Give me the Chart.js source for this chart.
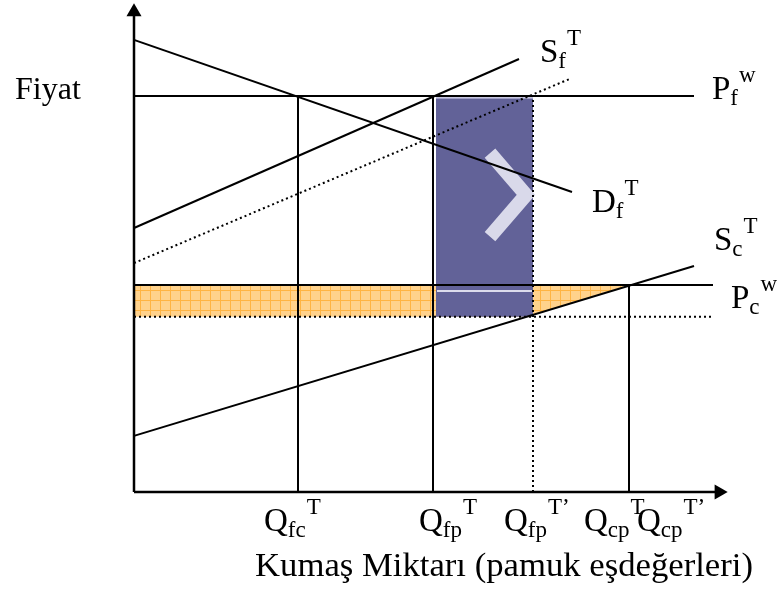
<!DOCTYPE html>
<html lang="tr">
  <head>
    <meta charset="UTF-8" />
    <title>Kumaş piyasası</title>
    <script src="https://cdn.jsdelivr.net/npm/chart.js"></script>
    <style>
      body { margin: 0; background: #fff; }
      canvas { display: block; }
    </style>
  </head>
  <body>
    <canvas id="diagram" width="777" height="592"></canvas>
    <script>
      // quantity levels (x) and price levels (y), diagram units
      const qFcT = 32.8;
      const qFpT = 59.8;
      const qFpT2 = 79.8;
      const qCpT = 99;
      const pFw = 82.5;
      const pCw = 43.1;
      const pCwLow = 36.5;

      // curves as [x, y] end points
      const demandF = [[0, 94.2], [87.6, 62.5]];
      const supplyF = [[0, 55], [77, 90.2]];
      const supplyF2 = [[0, 47.7], [87, 86]];
      const supplyC = [[0, 11.7], [112, 47.1]];
      const worldFEnd = 112;
      const worldCEnd = 115.8;

      // shaded areas
      const orangeTop = [[0, pCw], [qCpT, pCw]];
      const orangeBottom = [[0, pCwLow], [78.6, pCwLow], [qCpT, pCw]];
      const blueBox = [[60.4, 82.1], [qFpT2, 82.1]];
      const blueStripe = [[60.6, 41.9], [79.6, 41.9]];
      const chevron = [[71.2, 70.6], [78.4, 61.9], [71.2, 53.2]];

      // text
      const xTickLabels = [
        ["Q", "fc", "T"],
        ["Q", "fp", "T"],
        ["Q", "fp", "T’"],
        ["Q", "cp", "T"],
        ["Q", "cp", "T’"],
      ];
      const curveLabels = [
        ["S", "f", "T"],
        ["P", "f", "w"],
        ["D", "f", "T"],
        ["S", "c", "T"],
        ["P", "c", "w"],
      ];
      const yTitle = "Fiyat";
      const xTitle = "Kumaş Miktarı (pamuk eşdeğerleri)";

      const pts = (arr) => arr.map(([x, y]) => ({ x: x, y: y }));

      const canvas = document.getElementById("diagram");
      const ctx = canvas.getContext("2d");

      // orange grid fill
      const tile = document.createElement("canvas");
      tile.width = 10;
      tile.height = 10;
      const tg = tile.getContext("2d");
      tg.fillStyle = "#ffd28c";
      tg.fillRect(0, 0, 10, 10);
      tg.fillStyle = "#ffb443";
      tg.fillRect(0, 0, 1, 10);
      tg.fillRect(0, 0, 10, 1);
      const orangePattern = ctx.createPattern(tile, "repeat");

      function line(data, opts) {
        return Object.assign(
          {
            data: pts(data),
            showLine: true,
            borderColor: "#000",
            borderWidth: 2,
            pointRadius: 0,
            fill: false,
            clip: false,
            order: 0,
          },
          opts || {}
        );
      }

      const dotted = { borderDash: [2, 3], borderWidth: 2 };

      const datasets = [
        // axes with arrow heads
        line([[0, 0], [0, 100]], {
          borderWidth: 2.5,
          pointRadius: [0, 8.7],
          pointStyle: "triangle",
          pointBackgroundColor: "#000",
          pointBorderColor: "#000",
          pointBorderWidth: 0,
        }),
        line([[0, 0], [117, 0]], {
          borderWidth: 2.5,
          pointRadius: [0, 8.7],
          pointStyle: "triangle",
          pointRotation: 90,
          pointBackgroundColor: "#000",
          pointBorderColor: "#000",
          pointBorderWidth: 0,
        }),
        // curves
        line(demandF),
        line(supplyF),
        line(supplyF2, dotted),
        line(supplyC),
        // world prices
        line([[0, pFw], [worldFEnd, pFw]]),
        line([[0, pCw], [worldCEnd, pCw]]),
        line([[0, pCwLow], [worldCEnd, pCwLow]], dotted),
        // quantity drop lines
        line([[qFcT, 0], [qFcT, pFw]]),
        line([[qFpT, 0], [qFpT, pFw]]),
        line([[qFpT2, 0], [qFpT2, pFw]], dotted),
        line([[qCpT, 0], [qCpT, pCw]]),
        // blue button
        line(chevron, {
          borderColor: "#d9d9ea",
          borderWidth: 14,
          borderJoinStyle: "miter",
          borderCapStyle: "butt",
          order: 3,
        }),
        line(blueStripe, { borderColor: "#dcdcec", borderWidth: 2, order: 3 }),
        line(blueBox, {
          borderColor: "#b4b4d6",
          borderWidth: 1.5,
          backgroundColor: "#626298",
          fill: { value: pCwLow },
          order: 5,
        }),
        // orange area
        line(orangeTop, {
          borderWidth: 0,
          borderColor: "rgba(0,0,0,0)",
          backgroundColor: orangePattern,
          fill: "+1",
          order: 10,
        }),
        line(orangeBottom, {
          borderWidth: 0,
          borderColor: "rgba(0,0,0,0)",
          order: 10,
        }),
      ];

      function drawLabel(c, x, y, main, sub, sup) {
        c.font = '33px "Liberation Serif"';
        c.fillText(main, x, y);
        let w = c.measureText(main).width;
        c.font = '23px "Liberation Serif"';
        c.fillText(sub, x + w, y + 6);
        w += c.measureText(sub).width;
        c.fillText(sup, x + w + 1, y - 17);
      }

      const textPlugin = {
        id: "texts",
        afterDraw(chart) {
          const c = chart.ctx;
          const base = chart.scales.y.getPixelForValue(0);
          c.save();
          c.fillStyle = "#000";
          c.textAlign = "left";
          c.textBaseline = "alphabetic";

          const qLeft = [264, 419, 504, 584, 637];
          xTickLabels.forEach((t, i) => {
            drawLabel(c, qLeft[i], base + 39, t[0], t[1], t[2]);
          });

          const curvePos = [
            [540, 62],
            [712, 99],
            [592, 212],
            [714, 250],
            [731, 308],
          ];
          curveLabels.forEach((t, i) => {
            drawLabel(c, curvePos[i][0], curvePos[i][1], t[0], t[1], t[2]);
          });

          c.font = '32px "Liberation Serif"';
          c.fillText(yTitle, 15, 99);
          c.font = '34.7px "Liberation Serif"';
          c.fillText(xTitle, 255, 576);
          c.restore();
        },
      };

      new Chart(ctx, {
        type: "scatter",
        data: { datasets: datasets },
        options: {
          responsive: false,
          animation: false,
          events: [],
          layout: { padding: { left: 134, right: 43, top: 12, bottom: 100 } },
          scales: {
            x: { type: "linear", min: 0, max: 120, display: false },
            y: { type: "linear", min: 0, max: 100, display: false },
          },
          plugins: {
            legend: { display: false },
            tooltip: { enabled: false },
          },
        },
        plugins: [textPlugin],
      });
    </script>
  </body>
</html>
